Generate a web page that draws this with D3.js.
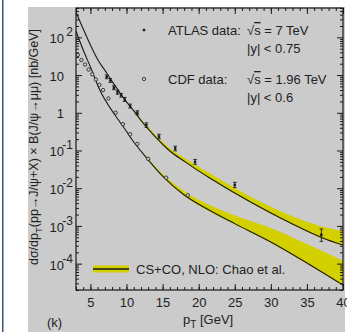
<!DOCTYPE html>
<html><head><meta charset="utf-8">
<script src="https://cdn.jsdelivr.net/npm/d3@7"></script>
<style>
html,body{margin:0;padding:0;background:#fff;}
svg{display:block;font-family:"Liberation Sans",Arial,sans-serif;}
</style></head>
<body>
<svg id="c" width="347" height="332"></svg>
<script>
// ---------- data ----------
const xTicksMajor = [5, 10, 15, 20, 25, 30, 35, 40];
const yDecades = [-4, -3, -2, -1, 0, 1, 2];

// ATLAS data (sqrt(s)=7 TeV, |y|<0.75)
const atlasPt  = [7.25, 7.75, 8.25, 8.75, 9.25, 9.75, 10.5, 11.5, 12.75, 14.5, 16.75, 19.5, 25, 37];
const atlasVal = [9.0, 7.2, 4.6, 3.5, 2.9, 2.25, 1.5, 1.0, 0.47, 0.235, 0.113, 0.05, 0.0122, 5.8e-4];
const atlasLo  = [8.0, 6.4, 4.1, 3.1, 2.6, 2.0, 1.33, 0.88, 0.41, 0.205, 0.098, 0.043, 0.0104, 3.9e-4];
const atlasHi  = [10.1, 8.1, 5.2, 3.95, 3.25, 2.55, 1.7, 1.13, 0.54, 0.27, 0.13, 0.058, 0.0143, 8.3e-4];

// CDF data (sqrt(s)=1.96 TeV, |y|<0.6)
const cdfPt  = [3.25, 3.75, 4.25, 4.75, 5.25, 5.75, 6.25, 6.75, 7.5, 8.5, 9.5, 10.5, 11.5, 13, 15.5, 18.5];
const cdfVal = [34, 25, 19, 14, 10.5, 7.6, 5.5, 4.0, 2.4, 1.0, 0.5, 0.27, 0.15, 0.06, 0.019, 0.0065];

// CS+CO NLO theory, upper curve (ATLAS kinematics)
const upPt  = [3, 4, 5, 6, 7.3, 8, 9, 10, 10.9, 12, 13.25, 14, 16, 18, 19.5, 22, 24.76, 30, 33, 37.2, 40];
const upVal = [470, 166, 63, 26, 11.0, 6.8, 3.6, 1.95, 1.19, 0.63, 0.33, 0.228, 0.097, 0.052, 0.033, 0.0165, 0.0079, 0.0022, 0.00113, 4.8e-4, 3.1e-4];
const upBandPt = [10.9, 12, 13.25, 14, 16, 18, 19.5, 22, 24.76, 30, 33, 37.2, 40];
const upBandLo = [1.14, 0.60, 0.317, 0.219, 0.093, 0.05, 0.0317, 0.0158, 0.0076, 0.0021, 0.00108, 4.6e-4, 2.98e-4];
const upBandHi = [1.25, 0.68, 0.37, 0.26, 0.115, 0.064, 0.042, 0.022, 0.0108, 0.0032, 0.0018, 9.5e-4, 7.5e-4];

// CS+CO NLO theory, lower curve (CDF kinematics)
const lowPt  = [3, 4, 5, 6.3, 8.4, 9.7, 10.8, 12.8, 15, 18, 21.5, 25, 30, 35, 40];
const lowVal = [147, 46, 16.4, 4.0, 0.87, 0.39, 0.19, 0.063, 0.021, 0.0066, 0.0026, 0.00115, 3.75e-4, 1.04e-4, 2.7e-5];
const lowBandPt = [12, 12.8, 15, 18, 21.5, 25, 30, 35, 40];
const lowBandLo = [0.094, 0.060, 0.020, 0.0062, 0.0024, 0.00109, 3.55e-4, 9.9e-5, 2.55e-5];
const lowBandHi = [0.10, 0.067, 0.024, 0.0083, 0.0036, 0.0019, 8.8e-4, 3.3e-4, 1.2e-4];

// ---------- drawing ----------
const svg = d3.select("#c");
const L = 76, R = 343, T = 8, B = 290;
const x = d3.scaleLinear().domain([3, 40]).range([L, R]);
const y = d3.scaleLog().domain([2e-5, 600]).range([B, T]);
const ink = "#1a1a1a";
const yellow = "#d4d000";

// panel
svg.append("rect").attr("x", 28).attr("y", 7).attr("width", 317).attr("height", 325).attr("fill", "#cbcbcb");
svg.append("rect").attr("x", 2).attr("y", 0).attr("width", 1.5).attr("height", 332).attr("fill", "#3a5674");

svg.append("defs").append("clipPath").attr("id", "clip")
  .append("rect").attr("x", L).attr("y", T).attr("width", R - L).attr("height", B - T);
const plot = svg.append("g").attr("clip-path", "url(#clip)");

// bands
function band(pt, lo, hi) {
  const d = pt.map((p, i) => ({p, lo: lo[i], hi: hi[i]}));
  plot.append("path").datum(d)
    .attr("d", d3.area().x(v => x(v.p)).y0(v => y(v.lo)).y1(v => y(v.hi)).curve(d3.curveMonotoneX))
    .attr("fill", yellow);
}
band(upBandPt, upBandLo, upBandHi);
band(lowBandPt, lowBandLo, lowBandHi);

function curve(pt, val) {
  plot.append("path").datum(pt.map((p, i) => ({p, v: val[i]})))
    .attr("d", d3.line().x(v => x(v.p)).y(v => y(v.v)).curve(d3.curveMonotoneX))
    .attr("fill", "none").attr("stroke", ink).attr("stroke-width", 1.1);
}
curve(upPt, upVal);
curve(lowPt, lowVal);

// ATLAS points
const atl = atlasPt.map((p, i) => ({p, v: atlasVal[i], lo: atlasLo[i], hi: atlasHi[i]}));
const ag = plot.append("g").attr("stroke", ink).attr("stroke-width", 0.9);
ag.selectAll(".eb").data(atl).join("line")
  .attr("x1", d => x(d.p)).attr("x2", d => x(d.p)).attr("y1", d => y(d.lo)).attr("y2", d => y(d.hi));
ag.selectAll(".c1").data(atl).join("line")
  .attr("x1", d => x(d.p) - 1.8).attr("x2", d => x(d.p) + 1.8).attr("y1", d => y(d.lo)).attr("y2", d => y(d.lo));
ag.selectAll(".c2").data(atl).join("line")
  .attr("x1", d => x(d.p) - 1.8).attr("x2", d => x(d.p) + 1.8).attr("y1", d => y(d.hi)).attr("y2", d => y(d.hi));
plot.selectAll(".am").data(atl).join("rect")
  .attr("x", d => x(d.p) - 1.2).attr("y", d => y(d.v) - 1.2).attr("width", 2.4).attr("height", 2.4).attr("fill", ink);

// CDF points
plot.selectAll(".cm").data(cdfPt.map((p, i) => ({p, v: cdfVal[i]}))).join("circle")
  .attr("cx", d => x(d.p)).attr("cy", d => y(d.v)).attr("r", 1.7)
  .attr("fill", "#cbcbcb").attr("stroke", ink).attr("stroke-width", 0.8);

// axes
const xMinor = d3.range(3, 41, 1);
function xAxis(gen, ty, vals, size, labels) {
  const g = svg.append("g").attr("transform", `translate(0,${ty})`)
    .call(gen(x).tickValues(vals).tickSize(size).tickPadding(8).tickFormat(labels ? d3.format("d") : ""));
  g.select(".domain").remove();
  g.selectAll("line").attr("stroke", ink);
  g.selectAll("text").attr("font-size", 13).attr("fill", "#222").attr("font-family", "Liberation Sans, Arial, sans-serif");
}
xAxis(d3.axisBottom, B, xMinor, -3, false);
xAxis(d3.axisBottom, B, xTicksMajor, -6, true);
xAxis(d3.axisTop, T, xMinor, -3, false);
xAxis(d3.axisTop, T, xTicksMajor, -6, false);

const yMajor = yDecades.map(e => Math.pow(10, e));
const yMinor = [];
[-5, -4, -3, -2, -1, 0, 1, 2].forEach(e => [2,3,4,5,6,7,8,9].forEach(m => {
  const v = m * Math.pow(10, e); if (v >= 2e-5 && v <= 600) yMinor.push(v);
}));
function yAxis(gen, tx, vals, size) {
  const g = svg.append("g").attr("transform", `translate(${tx},0)`)
    .call(gen(y).tickValues(vals).tickSize(size).tickFormat(""));
  g.select(".domain").remove();
  g.selectAll("line").attr("stroke", ink);
}
yAxis(d3.axisLeft, L, yMinor, -3);
yAxis(d3.axisLeft, L, yMajor, -6);
yAxis(d3.axisRight, R, yMinor, -3);
yAxis(d3.axisRight, R, yMajor, -6);

// frame
svg.append("rect").attr("x", L).attr("y", T).attr("width", R - L).attr("height", B - T)
  .attr("fill", "none").attr("stroke", ink).attr("stroke-width", 1.2);

// y tick labels
const yl = svg.append("g").attr("font-size", 13).attr("fill", "#222");
yDecades.forEach(e => {
  const ty = y(Math.pow(10, e));
  if (e === 0) {
    yl.append("text").attr("x", 64).attr("y", ty + 5).attr("text-anchor", "end").text("1");
  } else {
    yl.append("text").attr("x", 64).attr("y", ty + 6).attr("text-anchor", "end").text("10");
    if (e !== 1) yl.append("text").attr("x", 73).attr("y", ty - 1).attr("text-anchor", "end")
      .attr("font-size", 12).text(String(e));
  }
});

// axis titles
const xt = svg.append("text").attr("x", 183).attr("y", 324).attr("font-size", 13).attr("fill", "#222");
xt.append("tspan").text("p");
xt.append("tspan").attr("dy", 4).attr("font-size", 10).text("T");
xt.append("tspan").attr("dy", -4).text(" [GeV]");

const yt = svg.append("text").attr("transform", "translate(38,147) rotate(-90)")
  .attr("text-anchor", "middle").attr("font-size", 12.5).attr("fill", "#222");
yt.append("tspan").text("dσ/dp");
yt.append("tspan").attr("dy", 4).attr("font-size", 9.5).text("T");
yt.append("tspan").attr("dy", -4).text("(pp→J/ψ+X) × B(J/ψ→μμ)  [nb/GeV]");

svg.append("text").attr("x", 47).attr("y", 327).attr("font-size", 13).attr("fill", "#222").text("(k)");

// legend (data)
const lg = svg.append("g").attr("font-size", 13).attr("fill", "#222");
svg.append("rect").attr("x", 142.8).attr("y", 28.8).attr("width", 2.4).attr("height", 2.4).attr("fill", ink);
svg.append("circle").attr("cx", 144).attr("cy", 79).attr("r", 1.7).attr("fill", "#cbcbcb").attr("stroke", ink).attr("stroke-width", 0.8);
lg.append("text").attr("x", 168).attr("y", 35).text("ATLAS data:");
lg.append("text").attr("x", 168).attr("y", 84).text("CDF data:");
function sqrtS(yy, rest) {
  const t = lg.append("text").attr("x", 247).attr("y", yy);
  t.append("tspan").text("√");
  t.append("tspan").attr("text-decoration", "overline").text("s");
  t.append("tspan").text(rest);
}
sqrtS(35, " = 7 TeV");
sqrtS(84, " = 1.96 TeV");
lg.append("text").attr("x", 247).attr("y", 53).text("|y| < 0.75");
lg.append("text").attr("x", 247).attr("y", 102).text("|y| < 0.6");

// legend (theory)
svg.append("rect").attr("x", 93).attr("y", 265.5).attr("width", 36).attr("height", 7).attr("fill", yellow);
svg.append("line").attr("x1", 93).attr("x2", 129).attr("y1", 269).attr("y2", 269).attr("stroke", ink).attr("stroke-width", 1.6);
lg.append("text").attr("x", 136).attr("y", 274).text("CS+CO, NLO: Chao et al.");
</script>
</body></html>
